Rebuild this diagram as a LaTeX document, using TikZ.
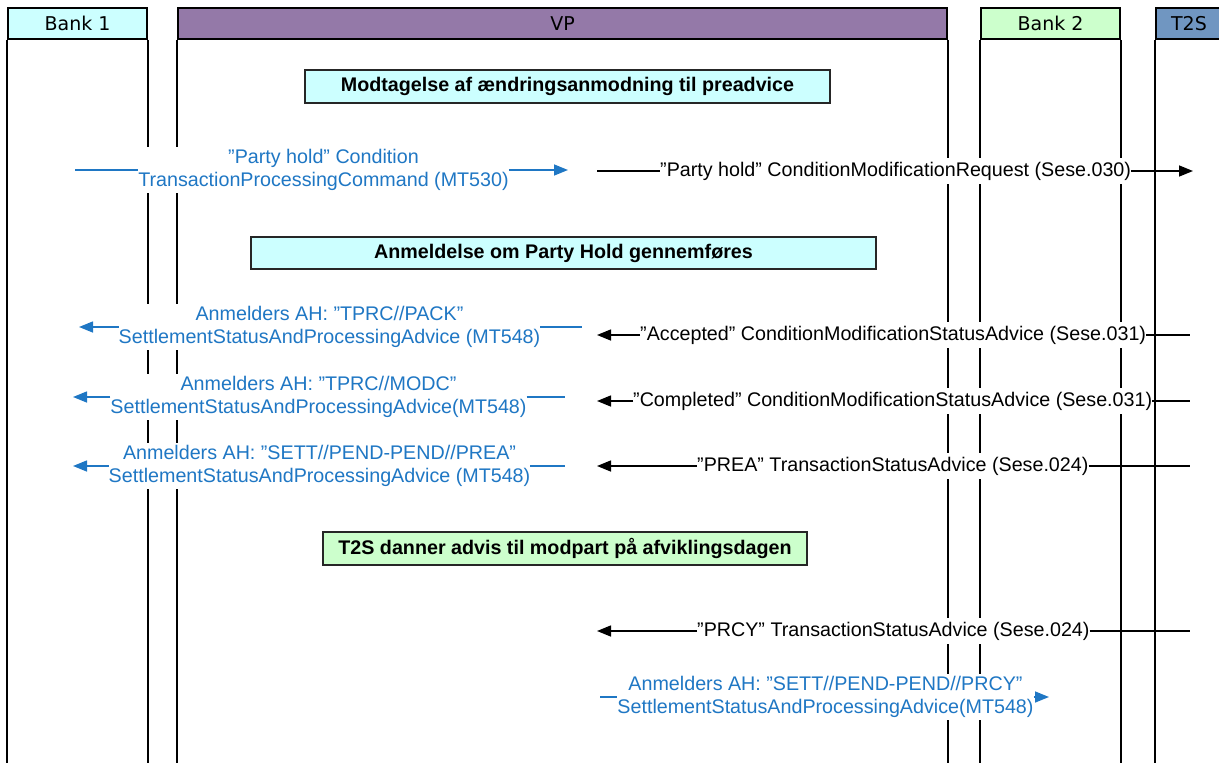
\documentclass[tikz,border=0pt]{standalone}
\usepackage{fontspec}
\setmainfont{Liberation Sans}
\newfontfamily\hdrfont{DejaVu Sans}
\usetikzlibrary{arrows.meta}
\definecolor{cyanbg}{HTML}{CCFFFF}
\definecolor{greenbg}{HTML}{CCFFCC}
\definecolor{vpcol}{HTML}{9479A8}
\definecolor{t2scol}{HTML}{7096C1}
\definecolor{msgblue}{HTML}{1F77C4}
\begin{document}
\begin{tikzpicture}[x=1pt,y=-1pt,
  hdr/.style={draw=black,line width=1.6pt,minimum height=31pt,inner sep=0pt,font=\hdrfont\fontsize{19}{22}\selectfont},
  life/.style={line width=1.6pt},
  note/.style={draw=black!85,line width=1.5pt,inner sep=0pt,font=\bfseries\fontsize{19.7}{22}\selectfont},
  btxt/.style={fill=white,text=msgblue,align=center,inner xsep=0pt,inner ysep=2pt,font=\fontsize{19.7}{23}\selectfont},
  ktxt/.style={fill=white,text=black,inner xsep=0pt,inner ysep=4pt,font=\fontsize{19.7}{23}\selectfont},
  bline/.style={draw=msgblue,line width=1.5pt},
  kline/.style={draw=black,line width=1.5pt},
  tip/.style={-{Triangle[length=14pt,width=11pt]}}
]
\useasboundingbox (0,0) rectangle (1219,763);
\clip (0,0) rectangle (1219,763);
\coordinate (bot) at (0,775);

% headers
\node[hdr,fill=cyanbg,minimum width=139pt] (h1) at (77.5,23.5) {Bank 1};
\node[hdr,fill=vpcol,minimum width=769pt] (h2) at (562.5,23.5) {VP};
\node[hdr,fill=greenbg,minimum width=139pt] (h3) at (1050.5,23.5) {Bank 2};
\node[hdr,fill=t2scol,minimum width=66pt] (h4) at (1189,23.5) {T2S};

% lifelines
\foreach \n in {h1,h2,h3,h4}{
  \draw[life] (\n.south west) -- (\n.south west |- bot);
  \draw[life] (\n.south east) -- (\n.south east |- bot);
}

% notes
\node[note,fill=cyanbg,minimum width=525pt,minimum height=33pt] (n1) at (567.5,86.5) {Modtagelse af ændringsanmodning til preadvice};
\node[note,fill=cyanbg,minimum width=625pt,minimum height=32pt] (n2) at (563.5,253) {Anmeldelse om Party Hold gennemføres};
\node[note,fill=greenbg,minimum width=484pt,minimum height=33pt] (n3) at (565,548.5) {T2S danner advis til modpart på afviklingsdagen};

% Row A (blue, to VP)
\coordinate (a0) at (75,170);
\node[btxt] (a) at (323.5,170) {”Party hold” Condition\\TransactionProcessingCommand (MT530)};
\coordinate (a1) at (568,170);
\draw[bline] (a0) -- (a.west |- a0);
\draw[bline,tip] (a.east |- a0) -- (a1);

% Sese.030
\coordinate (s0) at (597,171);
\node[ktxt,anchor=west] (s) at (660,171) {”Party hold” ConditionModificationRequest (Sese.030)};
\coordinate (s1) at (1193,171);
\draw[kline] (s0) -- (s.west);
\draw[kline,tip] (s.east) -- (s1);

% Row B
\coordinate (b0) at (79,327);
\node[btxt] (b) at (329.5,327) {Anmelders AH: ”TPRC//PACK”\\SettlementStatusAndProcessingAdvice (MT548)};
\coordinate (b1) at (582,327);
\draw[bline,tip] (b.west |- b0) -- (b0);
\draw[bline] (b.east |- b1) -- (b1);

% Accepted
\coordinate (c0) at (597,335);
\node[ktxt,anchor=west] (c) at (640,335) {”Accepted” ConditionModificationStatusAdvice (Sese.031)};
\coordinate (c1) at (1190,335);
\draw[kline,tip] (c.west) -- (c0);
\draw[kline] (c.east) -- (c1);

% Row C
\coordinate (d0) at (73,397);
\node[btxt] (d) at (318.5,397) {Anmelders AH: ”TPRC//MODC”\\SettlementStatusAndProcessingAdvice(MT548)};
\coordinate (d1) at (565,397);
\draw[bline,tip] (d.west |- d0) -- (d0);
\draw[bline] (d.east |- d1) -- (d1);

% Completed
\coordinate (e0) at (597,401);
\node[ktxt,anchor=west] (e) at (633,401) {”Completed” ConditionModificationStatusAdvice (Sese.031)};
\coordinate (e1) at (1190,401);
\draw[kline,tip] (e.west) -- (e0);
\draw[kline] (e.east) -- (e1);

% Row D
\coordinate (f0) at (73,466);
\node[btxt] (f) at (319.5,466) {Anmelders AH: ”SETT//PEND-PEND//PREA”\\SettlementStatusAndProcessingAdvice (MT548)};
\coordinate (f1) at (565,466);
\draw[bline,tip] (f.west |- f0) -- (f0);
\draw[bline] (f.east |- f1) -- (f1);

% PREA
\coordinate (g0) at (597,466);
\node[ktxt,anchor=west] (g) at (697,466) {”PREA” TransactionStatusAdvice (Sese.024)};
\coordinate (g1) at (1190,466);
\draw[kline,tip] (g.west) -- (g0);
\draw[kline] (g.east) -- (g1);

% PRCY
\coordinate (p0) at (597,631);
\node[ktxt,anchor=west] (p) at (697,631) {”PRCY” TransactionStatusAdvice (Sese.024)};
\coordinate (p1) at (1190,631);
\draw[kline,tip] (p.west) -- (p0);
\draw[kline] (p.east) -- (p1);

% Row E
\coordinate (q0) at (600,697);
\node[btxt] (q) at (825.5,697) {Anmelders AH: ”SETT//PEND-PEND//PRCY”\\SettlementStatusAndProcessingAdvice(MT548)};
\coordinate (q1) at (1049,697);
\draw[bline] (q0) -- (q.west |- q0);
\draw[bline,tip] (q.east |- q1) -- (q1);
\end{tikzpicture}
\end{document}
